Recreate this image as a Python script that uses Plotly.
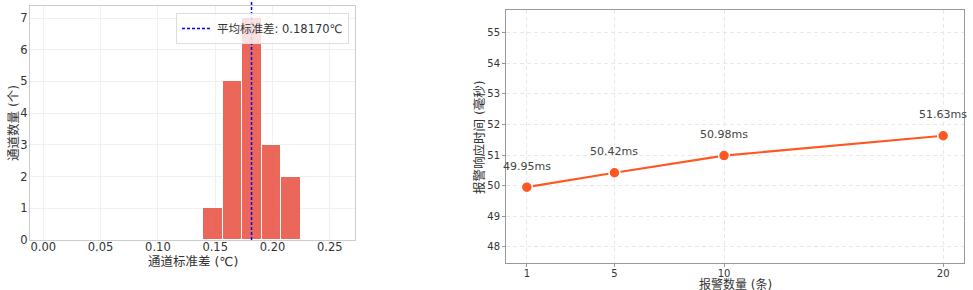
import plotly.graph_objects as go

# ---- data ----
bin_edges = [0.1395, 0.1565, 0.1735, 0.1905, 0.2075, 0.2245]
bin_counts = [1, 5, 7, 3, 2]
mean_std = 0.18170
hist_xticks = [0.00, 0.05, 0.10, 0.15, 0.20, 0.25]

alarm_counts = [1, 5, 10, 20]
response_ms = [49.95, 50.42, 50.98, 51.63]
resp_yticks = [48, 49, 50, 51, 52, 53, 54, 55]

W, H = 973, 290
FONT = "DejaVu Sans, Noto Sans CJK SC, sans-serif"

def xd(a, b):
    return [a / W, b / W]

def yd(top, bottom):
    return [1 - bottom / H, 1 - top / H]

fig = go.Figure()

centers = [(bin_edges[i] + bin_edges[i + 1]) / 2 for i in range(len(bin_counts))]
widths = [bin_edges[i + 1] - bin_edges[i] for i in range(len(bin_counts))]
fig.add_trace(go.Bar(
    x=centers, y=bin_counts, width=widths,
    marker=dict(color="rgba(231,76,60,0.85)", line=dict(color="white", width=1)),
    xaxis="x", yaxis="y", showlegend=False,
))
# legend entry for mean line
fig.add_trace(go.Scatter(
    x=[None], y=[None], mode="lines", name=f"平均标准差: {mean_std:.5f}℃",
    line=dict(color="#0000ff", dash="3px,2px", width=1.5), xaxis="x", yaxis="y",
))
fig.add_shape(type="line", xref="x", yref="y domain", x0=mean_std, x1=mean_std,
              y0=0, y1=1.03, line=dict(color="#0000ff", dash="3px,2px", width=1.5))

fig.add_trace(go.Scatter(
    x=alarm_counts, y=response_ms, mode="lines+markers",
    line=dict(color="#FF5722", width=2.2),
    marker=dict(size=11, color="#FF5722", line=dict(color="white", width=1.5)),
    xaxis="x2", yaxis="y2", showlegend=False,
))
for xv, yv in zip(alarm_counts, response_ms):
    fig.add_annotation(x=xv, y=yv, xref="x2", yref="y2", text=f"{yv:.2f}ms",
                       showarrow=False, yshift=21,
                       font=dict(size=11, color="#444", family=FONT))

# axis titles as positioned text
def title(text, x, y, angle=0, size=12.5):
    fig.add_annotation(x=x / W, y=1 - y / H, xref="paper", yref="paper", text=text,
                       showarrow=False, textangle=angle, xanchor="center", yanchor="middle",
                       font=dict(size=size, color="#333", family=FONT))

title("通道标准差 (℃)", 193, 261.5)
title("通道数量 (个)", 13, 123, -90)
title("报警数量 (条)", 735, 284.5, size=12)
title("报警响应时间 (毫秒)", 480, 137, -90)

left_common = dict(showline=True, mirror=True, ticks="", zeroline=False, automargin=False,
                   tickfont=dict(size=11.5, color="#333", family=FONT),
                   linecolor="#cccccc", gridcolor="#f0f0f0")
right_common = dict(showline=True, mirror=True, ticks="outside", ticklen=3, zeroline=False,
                    automargin=False, tickfont=dict(size=10, color="#333", family=FONT),
                    linecolor="#999999", gridcolor="#e8e8e8", griddash="4px,3px",
                    tickcolor="#999999")

fig.update_layout(
    width=W, height=H, margin=dict(l=0, r=0, t=0, b=0),
    paper_bgcolor="white", plot_bgcolor="white",
    font=dict(family=FONT, color="#333"),
    bargap=0,
    xaxis=dict(domain=xd(30, 355), range=[-0.0116, 0.272], tickvals=hist_xticks,
               ticktext=[f"{v:.2f}" for v in hist_xticks], anchor="y",
               ticklabelstandoff=-4, **left_common),
    yaxis=dict(domain=yd(6, 240), range=[0, 7.38], dtick=1, anchor="x",
               ticklabelstandoff=-1, **left_common),
    xaxis2=dict(domain=xd(506, 964), range=[0.05, 20.95], tickvals=alarm_counts,
                anchor="y2", ticklabelstandoff=-2, **right_common),
    yaxis2=dict(domain=yd(10, 263), range=[47.47, 55.74], tickvals=resp_yticks,
                anchor="x2", **right_common),
    legend=dict(x=349 / W, y=1 - 13 / H, xanchor="right", yanchor="top",
                bgcolor="rgba(255,255,255,0.8)", bordercolor="#dddddd", borderwidth=1,
                font=dict(size=11.5, color="#333", family=FONT)),
)

fig.write_html("out.html")
